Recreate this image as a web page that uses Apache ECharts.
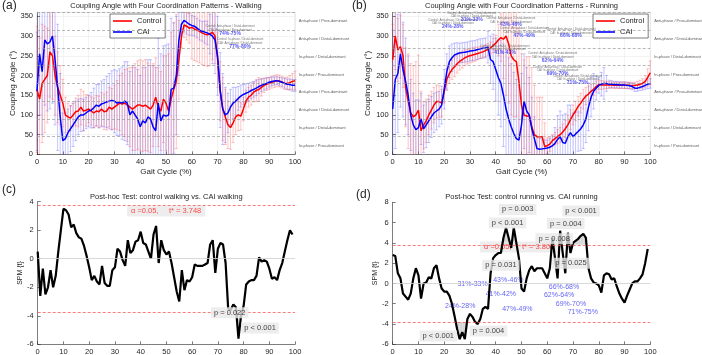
<!DOCTYPE html>
<html>
<head>
<meta charset="utf-8">
<script src="https://cdn.jsdelivr.net/npm/echarts@6/dist/echarts.min.js"></script>
<style>
  html, body { margin: 0; padding: 0; background: #fff; }
  #chart { width: 702px; height: 355px; }
</style>
</head>
<body>
<div id="chart"></div>
<script>
// gait cycle 0..100 %
const gait = Array.from({ length: 101 }, (_, i) => i);

// (a) walking, coupling angle means
const ctrlWalk = [165,140,180,190,200,260,250,200,170,150,
  130,100,95,92,100,108,110,120,110,112,
  115,110,105,110,108,115,108,110,120,115,
  120,125,130,128,130,125,120,115,120,125,
  125,122,125,120,115,125,145,120,110,140,
  130,110,140,165,185,240,300,328,325,320,
  322,318,315,312,308,305,303,305,310,300,
  240,160,115,95,75,68,80,95,100,97,
  115,135,145,150,158,162,165,170,175,178,
  180,183,185,187,186,183,180,180,182,185,187];
const caiWalk = [160,255,210,290,280,285,300,240,170,95,
  35,40,55,65,75,85,95,100,100,105,
  110,112,118,125,122,128,130,133,135,137,
  135,130,132,130,135,130,100,110,100,90,
  70,85,80,95,90,70,60,130,85,100,
  97,100,165,168,200,290,330,340,335,330,
  327,325,320,315,312,310,308,305,300,290,
  250,163,115,100,105,120,130,135,142,148,
  152,155,158,162,165,168,172,175,178,180,
  183,185,186,187,185,183,180,178,177,175,175];
// (a) standard deviations
const ctrlWalkSd = [160,155,150,135,120,115,110,100,90,75,
  60,45,35,32,30,35,40,45,50,40,
  35,36,38,39,40,42,45,48,50,52,
  55,62,70,78,85,92,100,105,110,112,
  115,115,115,112,110,105,100,100,100,110,
  120,145,170,170,170,100,30,32,35,38,
  80,80,80,80,80,80,80,80,70,70,
  70,75,80,70,60,55,50,45,40,35,
  30,28,25,25,25,28,30,22,18,16,
  15,15,15,15,15,15,15,16,18,20,24];
const caiWalkSd = [150,155,160,165,170,170,170,165,160,110,
  70,65,60,58,55,50,45,42,40,40,
  40,45,50,52,55,58,60,65,70,75,
  80,82,85,92,100,105,110,115,120,125,
  130,135,140,145,150,155,160,165,170,175,
  180,180,180,165,150,90,30,30,30,28,
  25,25,25,25,25,28,30,50,70,85,
  100,95,90,70,50,45,40,35,30,28,
  25,24,22,21,20,19,18,16,15,14,
  12,11,10,10,10,11,12,13,14,15,15];

// (b) running, coupling angle means
const ctrlRun = [240,300,265,273,250,170,135,105,95,100,
  112,60,74,85,100,112,125,134,134,130,
  160,190,205,215,222,230,236,240,245,248,
  250,252,254,256,258,260,263,266,270,276,
  282,290,296,292,300,280,250,240,235,185,
  125,100,97,98,70,50,45,45,45,20,
  22,26,35,40,45,50,57,65,75,88,
  100,110,122,130,140,148,153,160,165,172,
  177,176,176,176,176,176,175,175,175,175,
  175,175,175,174,175,176,178,180,185,195,207];
const caiRun = [115,190,205,255,215,185,150,100,75,63,
  68,90,65,75,85,95,105,110,115,125,
  165,210,235,245,252,255,257,258,259,260,
  262,263,264,266,268,269,270,272,240,235,
  215,195,180,150,115,90,70,53,40,36,
  75,135,110,100,65,40,15,13,14,15,
  16,18,22,28,38,45,30,28,45,55,
  45,52,58,65,75,90,120,145,160,168,
  175,178,180,180,178,178,177,177,176,176,
  176,175,174,172,168,168,170,172,175,178,180];
// (b) standard deviations
const ctrlRunSd = [90,85,80,80,80,100,120,125,130,135,
  140,100,60,55,50,48,45,42,40,35,
  30,28,25,25,25,24,22,21,20,19,
  18,18,18,16,15,15,15,15,15,18,
  20,40,60,100,150,150,150,145,140,135,
  130,140,150,150,150,125,100,100,100,60,
  20,18,15,16,18,19,20,22,25,25,
  25,25,25,25,25,22,20,18,15,14,
  12,11,10,9,8,8,8,8,8,8,
  8,8,8,8,8,9,10,12,15,22,30];
const caiRunSd = [200,175,150,135,120,110,100,90,80,75,
  70,65,60,58,55,52,50,48,45,48,
  50,45,40,35,30,28,25,25,25,25,
  25,25,25,25,25,25,25,40,60,70,
  80,95,110,130,150,155,160,155,150,140,
  130,120,110,95,80,55,30,28,25,22,
  20,22,25,40,60,65,70,75,80,70,
  60,55,50,55,60,60,60,50,45,30,
  20,30,40,20,10,9,8,8,8,8,
  8,8,8,8,8,8,8,9,10,11,12];

// coordination pattern bins (bottom to top)
const patternCenters = [22.5, 67.5, 112.5, 157.5, 202.5, 247.5, 292.5, 337.5];
const patternNames = ['In-phase / Prox-dominant', 'In-phase / Distal-dominant',
  'Anti-phase / Distal-dominant', 'Anti-phase / Prox-dominant',
  'In-phase / Prox-dominant', 'In-phase / Distal-dominant',
  'Anti-phase / Distal-dominant', 'Anti-phase / Prox-dominant'];
const patternEdges = [45, 90, 135, 180, 225, 270, 315, 360];

// significant ranges marked on (a) and (b)
const walkRanges = [[74.8, 305, '74%-75%'], [78.7, 272, '77%-80%']];
const walkNotes = [[74.8, 320, 'Control: Anti-phase / Distal-dominant\nCAI: Anti-phase / Prox-dominant'],
  [78.7, 287, 'Control: In-phase / Distal-dominant\nCAI: Anti-phase / Distal-dominant']];
const runRanges = [[23.3, 324, '24%-28%'], [30.7, 341, '31%-33%'], [45.9, 328, '43%-46%'],
  [51.1, 302, '47%-49%'], [43.6, 258, '41%-42%'], [62.1, 239, '62%-64%'],
  [69.2, 300, '66%-68%'], [64.0, 204, '69%-70%'], [71.8, 182, '71%-75%']];
const runNoteText = 'Control: Anti-phase / Distal-dominant\nCAI: In-phase / Distal-dominant';

// (c), (d) SPM t statistic
const spmWalk = [0.5,-2.6,-0.7,-2.5,-2.0,-0.8,-2.0,-1.2,0.5,2.0,
  3.5,3.4,3.1,2.2,2.4,1.8,1.5,1.4,0.9,0.2,
  -0.6,-1.5,-1.2,-1.6,-1.8,-0.5,-1.7,-1.9,-1.9,-0.8,
  -0.6,0.7,0.5,-0.1,-0.5,1.3,0.4,0.6,1.2,1.3,
  1.9,1.1,1.0,0.5,0.0,1.7,2.3,-0.3,1.3,0.6,
  0.3,0.5,-0.3,-1.3,-2.3,-3.0,-0.8,-2.2,-1.5,-1.6,
  -1.3,-0.4,-0.5,-0.5,-0.5,-0.4,-0.3,1.0,1.3,-1.0,
  0.7,1.1,1.0,-0.3,-3.5,-3.6,-3.2,-3.4,-5.6,-4.0,
  -3.3,-1.8,-1.6,-1.5,-1.5,-1.2,0.1,-0.2,-0.1,-0.2,
  -0.7,-1.4,-1.3,-1.5,-0.8,-0.3,0.5,1.3,2.0,1.7];
const spmRun = [2.8,2.7,1.0,0.5,-1.0,-1.3,-1.6,-1.0,0.5,1.5,
  0.8,-1.5,0.0,0.1,0.6,0.5,1.5,1.8,0.5,-0.5,
  -0.8,-0.8,-1.2,-2.0,-3.2,-4.5,-5.5,-4.8,-5.5,-3.5,
  -3.0,-3.3,-3.8,-4.0,-3.5,-2.5,-2.3,-2.5,1.0,2.5,
  2.8,3.0,3.0,4.5,5.5,4.5,3.5,5.5,4.0,2.5,
  -0.5,-0.8,0.5,1.3,1.7,1.2,1.5,1.5,1.5,1.0,
  0.5,1.5,4.5,2.5,0.5,5.2,3.0,1.0,5.0,3.0,
  4.0,4.2,4.4,4.7,4.9,4.5,1.5,0.5,0.1,0.0,
  -0.2,-0.9,0.8,1.0,0.9,0.4,0.5,-0.3,-1.0,-1.5,
  -1.9,-1.2,-0.6,0.0,0.2,0.2,0.5,0.9,2.0,3.4];
const walkThreshold = 3.748;
const runThreshold = 3.806;
const walkP = [[74.6, -3.79, 'p = 0.022'], [86.4, -4.86, 'p < 0.001']];
const runP = [[48.5, 7.3, 'p = 0.003'], [44.6, 5.95, 'p < 0.001'], [42.0, 1.8, 'p = 0.031'],
  [73.1, 7.15, 'p < 0.001'], [67.2, 5.9, 'p = 0.004'], [62.7, 4.4, 'p = 0.008'],
  [69.2, 1.98, 'p = 0.025'], [17.7, -5.17, 'p < 0.001'], [37.2, -4.7, 'p = 0.004']];
const runSpmRanges = [[31.0, -0.1, '31%-33%'], [44.9, 0.3, '43%-46%'], [42.0, -1.03, '41%-42%'],
  [26.2, -2.24, '24%-28%'], [48.4, -2.57, '47%-49%'], [66.5, -0.33, '66%-68%'],
  [64.6, -1.1, '62%-64%'], [69.2, -2.07, '69%-70%'], [73.8, -2.8, '71%-75%']];

const FONT = '"Liberation Sans", Arial, Helvetica, sans-serif';
const INK = '#262626';

const chart = echarts.init(document.getElementById('chart'));

function xAxisFor(gi, name, grid) {
  return {
    type: 'value', gridIndex: gi, min: 0, max: 100, interval: 10,
    name: name, nameLocation: 'middle', nameGap: 13,
    nameTextStyle: { fontSize: 8, color: INK, fontFamily: FONT },
    axisLine: { onZero: false, lineStyle: { color: INK, width: 0.6 } },
    axisTick: { inside: true, length: 3, lineStyle: { color: INK, width: 0.6 } },
    axisLabel: { fontSize: 7.5, color: INK, margin: 4, fontFamily: FONT },
    splitLine: { show: grid, lineStyle: { color: '#ebebeb', width: 0.6 } }
  };
}
function yAxisFor(gi, min, max, interval, name, gap, grid) {
  return {
    type: 'value', gridIndex: gi, min, max, interval,
    name: name, nameLocation: 'middle', nameGap: gap,
    nameTextStyle: { fontSize: grid ? 8 : 7, color: INK, fontFamily: FONT },
    axisLine: { show: true, lineStyle: { color: INK, width: 0.6 } },
    axisTick: { inside: true, length: 3, lineStyle: { color: INK, width: 0.6 } },
    axisLabel: { fontSize: 7.5, color: INK, margin: 4, fontFamily: FONT, showMaxLabel: !grid },
    splitLine: { show: grid, lineStyle: { color: '#ebebeb', width: 0.6 } }
  };
}

function meanLine(name, idx, values, color) {
  return {
    name, type: 'line', xAxisIndex: idx, yAxisIndex: idx, z: 4,
    symbol: 'none', lineStyle: { color, width: 1.5 }, itemStyle: { color },
    data: gait.map(x => [x, values[x]])
  };
}

function errorBars(idx, values, sd, color) {
  return {
    type: 'custom', xAxisIndex: idx, yAxisIndex: idx, z: 2, silent: true,
    encode: { x: 0, y: [1, 2] },
    data: gait.map(x => [x, values[x] - sd[x], values[x] + sd[x]]),
    renderItem: (params, api) => {
      const x = api.value(0);
      const lo = api.value(1), hi = api.value(2);
      const p1 = api.coord([x, Math.max(lo, 0)]);
      const p2 = api.coord([x, Math.min(hi, 360)]);
      const st = { stroke: color, lineWidth: 0.7 };
      const kids = [{ type: 'line', shape: { x1: p1[0], y1: p1[1], x2: p2[0], y2: p2[1] }, style: st }];
      if (lo >= 0) kids.push({ type: 'line', shape: { x1: p1[0] - 1.5, y1: p1[1], x2: p1[0] + 1.5, y2: p1[1] }, style: st });
      if (hi <= 360) kids.push({ type: 'line', shape: { x1: p2[0] - 1.5, y1: p2[1], x2: p2[0] + 1.5, y2: p2[1] }, style: st });
      return { type: 'group', children: kids };
    }
  };
}

function textSeries(idx, items, label, z) {
  return {
    type: 'scatter', xAxisIndex: idx, yAxisIndex: idx, clip: false, silent: true, z,
    symbolSize: 1, itemStyle: { color: 'rgba(0,0,0,0)' },
    label: Object.assign({ show: true, position: 'inside', formatter: '{b}', fontFamily: FONT }, label),
    data: items.map(d => ({ value: [d[0], d[1]], name: d[2] }))
  };
}

function patternSeries(idx) {
  return [
    textSeries(idx, patternCenters.map((c, i) => [101.5, c, patternNames[i]]),
      { fontSize: 4, color: '#333', align: 'left' }, 3),
    {
      type: 'line', xAxisIndex: idx, yAxisIndex: idx, data: [], silent: true, z: 1,
      markLine: {
        silent: true, symbol: 'none', label: { show: false },
        lineStyle: { color: '#9a9a9a', type: [3, 2], width: 0.7 },
        data: patternEdges.map(v => ({ yAxis: v }))
      }
    }
  ];
}

function clusterFill(idx, spm, thr) {
  return {
    type: 'custom', xAxisIndex: idx, yAxisIndex: idx, z: 1, silent: true,
    data: spm.slice(0, -1).map((v, i) => [i, v, spm[i + 1]]),
    renderItem: (params, api) => {
      const x0 = api.value(0), y0 = api.value(1), y1 = api.value(2), x1 = x0 + 1;
      const kids = [];
      [thr, -thr].forEach(t => {
        const s = t > 0 ? 1 : -1;
        const a = s * (y0 - t), b = s * (y1 - t);
        if (a <= 0 && b <= 0) return;
        let pts;
        if (a > 0 && b > 0) pts = [[x0, t], [x0, y0], [x1, y1], [x1, t]];
        else {
          const xc = x0 + a / (a - b);
          pts = a > 0 ? [[x0, t], [x0, y0], [xc, t]] : [[xc, t], [x1, y1], [x1, t]];
        }
        kids.push({ type: 'polygon', shape: { points: pts.map(p => api.coord(p)) }, style: { fill: '#d6d6d6' } });
      });
      return { type: 'group', children: kids };
    }
  };
}

// zero line and +/- critical threshold, kept under the labels
function thresholdLines(idx, thr) {
  return {
    type: 'line', xAxisIndex: idx, yAxisIndex: idx, data: [], silent: true, z: 1,
    markLine: {
      silent: true, symbol: 'none', label: { show: false },
      data: [
        { yAxis: 0, lineStyle: { color: '#cfcfcf', width: 0.8, type: 'solid' } },
        { yAxis: thr, lineStyle: { color: '#ff5a5a', width: 0.8, type: [3, 2] } },
        { yAxis: -thr, lineStyle: { color: '#ff5a5a', width: 0.8, type: [3, 2] } }
      ]
    }
  };
}

function spmSeries(idx, spm) {
  return {
    type: 'line', xAxisIndex: idx, yAxisIndex: idx, z: 4, symbol: 'none',
    lineStyle: { color: '#000', width: 2.2 },
    data: spm.map((v, i) => [gait[i], v])
  };
}

const pLabel = { fontSize: 7.5, color: '#111', backgroundColor: '#e9e9e9', padding: [2, 3, 1, 3] };
const alphaLabel = { fontSize: 7.5, color: '#ff2020', backgroundColor: '#e9e9e9', padding: [2, 4, 1, 4] };
const blueLabel = { fontSize: 7, color: '#3b3bf5' };

const legendBase = {
  data: ['Control', 'CAI'], orient: 'vertical', icon: 'rect', itemWidth: 19, itemHeight: 1.6, itemGap: 3,
  padding: [3, 4, 2, 3], borderColor: INK, borderWidth: 0.6, backgroundColor: '#fff',
  textStyle: { fontSize: 7.5, color: INK, fontFamily: FONT }
};

const titleStyle = { fontSize: 7.5, fill: INK, fontFamily: FONT, textAlign: 'center' };
const letterStyle = { fontSize: 12, fill: INK, fontFamily: FONT };

chart.setOption({
  animation: false,
  backgroundColor: '#fff',
  textStyle: { fontFamily: FONT },
  grid: [
    { left: 37, top: 12.4, width: 258, height: 142, show: true, borderColor: '#bdbdbd', borderWidth: 0.5, outerBoundsMode: 'none' },
    { left: 392.7, top: 12.4, width: 257.6, height: 142, show: true, borderColor: '#bdbdbd', borderWidth: 0.5, outerBoundsMode: 'none' },
    { left: 37.7, top: 201.7, width: 257.4, height: 142.6, outerBoundsMode: 'none' },
    { left: 392.7, top: 202.3, width: 257.6, height: 142, outerBoundsMode: 'none' }
  ],
  xAxis: [
    xAxisFor(0, 'Gait Cycle (%)', true),
    xAxisFor(1, 'Gait Cycle (%)', true),
    xAxisFor(2, '', false),
    xAxisFor(3, '', false)
  ],
  yAxis: [
    yAxisFor(0, 0, 360, 50, 'Coupling Angle (°)', 17, true),
    yAxisFor(1, 0, 360, 50, 'Coupling Angle (°)', 16, true),
    yAxisFor(2, -6, 4, 2, 'SPM {t}', 10, false),
    yAxisFor(3, -6, 8, 2, 'SPM {t}', 11, false)
  ],
  legend: [
    Object.assign({ left: 110, top: 14 }, legendBase),
    Object.assign({ left: 593, top: 14 }, legendBase)
  ],
  graphic: [
    { type: 'text', x: 2, y: 0, style: Object.assign({ text: '(a)' }, letterStyle) },
    { type: 'text', x: 352, y: 0, style: Object.assign({ text: '(b)' }, letterStyle) },
    { type: 'text', x: 2, y: 184, style: Object.assign({ text: '(c)' }, letterStyle) },
    { type: 'text', x: 356, y: 189, style: Object.assign({ text: '(d)' }, letterStyle) },
    { type: 'text', x: 166, y: 2, style: Object.assign({ text: 'Coupling Angle with Four Coordination Patterns - Walking' }, titleStyle) },
    { type: 'text', x: 521.5, y: 2, style: Object.assign({ text: 'Coupling Angle with Four Coordination Patterns - Running' }, titleStyle) },
    { type: 'text', x: 166.3, y: 192.5, style: Object.assign({ text: 'Post-hoc Test: control walking vs. CAI walking' }, titleStyle) },
    { type: 'text', x: 521.5, y: 192.5, style: Object.assign({ text: 'Post-hoc Test: control running vs. CAI running' }, titleStyle) }
  ],
  series: [
    ...patternSeries(0),
    ...patternSeries(1),
    errorBars(0, caiWalk, caiWalkSd, 'rgba(60,60,255,0.42)'),
    errorBars(0, ctrlWalk, ctrlWalkSd, 'rgba(255,60,60,0.42)'),
    errorBars(1, caiRun, caiRunSd, 'rgba(60,60,255,0.42)'),
    errorBars(1, ctrlRun, ctrlRunSd, 'rgba(255,60,60,0.42)'),
    meanLine('Control', 0, ctrlWalk, '#ff0000'),
    meanLine('CAI', 0, caiWalk, '#0000ff'),
    meanLine('Control', 1, ctrlRun, '#ff0000'),
    meanLine('CAI', 1, caiRun, '#0000ff'),
    textSeries(0, walkNotes, { fontSize: 3, color: '#555', lineHeight: 3.6 }, 5),
    textSeries(0, walkRanges, { fontSize: 5, color: '#2a2af0', fontWeight: 'bold' }, 5),
    textSeries(1, runRanges.map(d => [d[0], d[1] + 13, runNoteText]), { fontSize: 3, color: '#555', lineHeight: 3.6 }, 5),
    textSeries(1, runRanges, { fontSize: 5, color: '#2a2af0', fontWeight: 'bold' }, 5),

    thresholdLines(2, walkThreshold),
    thresholdLines(3, runThreshold),
    clusterFill(2, spmWalk, walkThreshold),
    clusterFill(3, spmRun, runThreshold),
    textSeries(2, [[49.9, 3.35, 'α =0.05,     t* = ' + walkThreshold]], alphaLabel, 2),
    textSeries(3, [[49.1, 3.6, 'α =0.05,     t* = ' + runThreshold]], alphaLabel, 2),
    textSeries(3, runSpmRanges, blueLabel, 2),
    spmSeries(2, spmWalk),
    spmSeries(3, spmRun),
    textSeries(2, walkP, pLabel, 6),
    textSeries(3, runP, pLabel, 6)
  ]
});
</script>
</body>
</html>
